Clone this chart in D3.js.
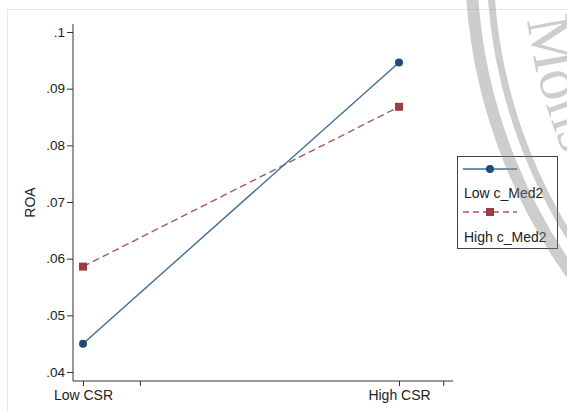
<!DOCTYPE html>
<html>
<head>
<meta charset="utf-8">
<script src="https://cdn.jsdelivr.net/npm/d3@7"></script>
<style>
  body { margin: 0; background: #fff; }
  svg { display: block; font-family: "Liberation Sans", Arial, sans-serif; }
</style>
</head>
<body>
<div id="chart"></div>
<script>
// data
var csrLevels = ["Low CSR", "High CSR"];
var seriesNames = ["Low c_Med2", "High c_Med2"];
var lowMed2 = [0.0450, 0.0946];
var highMed2 = [0.0586, 0.0868];
var yTicks = [0.04, 0.05, 0.06, 0.07, 0.08, 0.09, 0.1];
var xTicks = [0, 0.18, 1, 1.14];
var xTickLabels = ["Low CSR", "", "High CSR", ""];

var W = 567, H = 412;
var blue = "#1f4b74", red = "#9a3d44";

var svg = d3.select("#chart").append("svg")
    .attr("width", W)
    .attr("height", H);

// faint outer frame
svg.append("rect")
    .attr("x", 7.5).attr("y", 9.5)
    .attr("width", 700).attr("height", 500)
    .attr("fill", "#fff")
    .attr("stroke", "#e8e8e8");

var x = d3.scaleLinear().domain([0, 1]).range([83, 399]);
var y = d3.scaleLinear().domain([0.04, 0.1]).range([372, 32]);
var plotLeft = 73, plotRight = 453, plotTop = 24, plotBottom = 381;

// y axis
var yAxis = svg.append("g")
    .attr("transform", "translate(" + plotLeft + ",0)")
    .call(d3.axisLeft(y)
        .tickValues(yTicks)
        .tickSize(6)
        .tickSizeOuter(0)
        .tickFormat(function (d) { return d3.format(".2f")(d).replace(/^0/, "").replace(/0$/, ""); }));
yAxis.select(".domain").remove();
yAxis.selectAll(".tick line").attr("stroke", "#333");
yAxis.selectAll(".tick text")
    .attr("font-size", 13.5)
    .attr("fill", "#222")
    .attr("x", -8)
    .attr("font-family", "Liberation Sans, Arial, sans-serif");
yAxis.append("line")
    .attr("y1", plotTop).attr("y2", plotBottom)
    .attr("stroke", "#333");

// x axis
var xAxis = svg.append("g")
    .attr("transform", "translate(0," + plotBottom + ")")
    .call(d3.axisBottom(x)
        .tickValues(xTicks)
        .tickSize(5)
        .tickSizeOuter(0)
        .tickFormat(function (d, i) { return xTickLabels[i]; }));
xAxis.select(".domain").remove();
xAxis.selectAll(".tick line").attr("stroke", "#333");
xAxis.selectAll(".tick text")
    .attr("font-size", 14)
    .attr("fill", "#222")
    .attr("y", 9)
    .attr("font-family", "Liberation Sans, Arial, sans-serif");
xAxis.append("line")
    .attr("x1", plotLeft).attr("x2", plotRight)
    .attr("stroke", "#333");

// y title
svg.append("text")
    .attr("transform", "translate(35," + ((plotTop + plotBottom) / 2) + ") rotate(-90)")
    .attr("text-anchor", "middle")
    .attr("font-size", 14)
    .attr("fill", "#222")
    .text("ROA");

var line = d3.line()
    .x(function (d, i) { return x(i); })
    .y(function (d) { return y(d); });

// lines
svg.append("path")
    .datum(highMed2)
    .attr("d", line)
    .attr("fill", "none")
    .attr("stroke", "#a8585e")
    .attr("stroke-width", 1.4)
    .attr("stroke-dasharray", "7,4");

svg.append("path")
    .datum(lowMed2)
    .attr("d", line)
    .attr("fill", "none")
    .attr("stroke", "#3f6d95")
    .attr("stroke-width", 1.4);

// markers
svg.selectAll(".sq")
    .data(highMed2)
    .join("rect")
    .attr("x", function (d, i) { return x(i) - 4; })
    .attr("y", function (d) { return y(d) - 4; })
    .attr("width", 8).attr("height", 8)
    .attr("fill", red);

svg.selectAll(".dot")
    .data(lowMed2)
    .join("circle")
    .attr("cx", function (d, i) { return x(i); })
    .attr("cy", function (d) { return y(d); })
    .attr("r", 4)
    .attr("fill", blue);

// legend
var lg = svg.append("g");
lg.append("rect")
    .attr("x", 457.5).attr("y", 156.5)
    .attr("width", 100).attr("height", 92)
    .attr("fill", "#fff")
    .attr("stroke", "#444");

lg.append("line")
    .attr("x1", 463).attr("x2", 517).attr("y1", 169).attr("y2", 169)
    .attr("stroke", "#3f6d95").attr("stroke-width", 1.4);
lg.append("circle")
    .attr("cx", 490).attr("cy", 169).attr("r", 4)
    .attr("fill", blue);
lg.append("text")
    .attr("x", 464).attr("y", 198)
    .attr("font-size", 14).attr("fill", "#222")
    .text(seriesNames[0]);

lg.append("line")
    .attr("x1", 463).attr("x2", 517).attr("y1", 212).attr("y2", 212)
    .attr("stroke", "#a8585e").attr("stroke-width", 1.4)
    .attr("stroke-dasharray", "6,4");
lg.append("rect")
    .attr("x", 486).attr("y", 208).attr("width", 8).attr("height", 8)
    .attr("fill", red);
lg.append("text")
    .attr("x", 464).attr("y", 242)
    .attr("font-size", 14).attr("fill", "#222")
    .text(seriesNames[1]);

// watermark seal (partly outside the picture)
var cx = 1009, cy = -39.5;
var wm = svg.append("g").attr("opacity", 0.42);
wm.append("circle")
    .attr("cx", cx).attr("cy", cy).attr("r", 538)
    .attr("fill", "none").attr("stroke", "#8a8a8a").attr("stroke-width", 12);
wm.append("circle")
    .attr("cx", cx).attr("cy", cy).attr("r", 519)
    .attr("fill", "none").attr("stroke", "#8a8a8a").attr("stroke-width", 7);

var rT = 485;
function pt(a) { return [cx + rT * Math.cos(a * Math.PI / 180), cy + rT * Math.sin(a * Math.PI / 180)]; }
var p0 = pt(173), p1 = pt(110);
wm.append("path")
    .attr("id", "sealArc")
    .attr("fill", "none")
    .attr("d", "M" + p0[0] + "," + p0[1] + " A" + rT + "," + rT + " 0 0 0 " + p1[0] + "," + p1[1]);
wm.append("text")
    .attr("font-family", "Liberation Serif, serif")
    .attr("font-size", 62)
    .attr("fill", "#8a8a8a")
    .append("textPath")
    .attr("href", "#sealArc")
    .text("Mons");
</script>
</body>
</html>
